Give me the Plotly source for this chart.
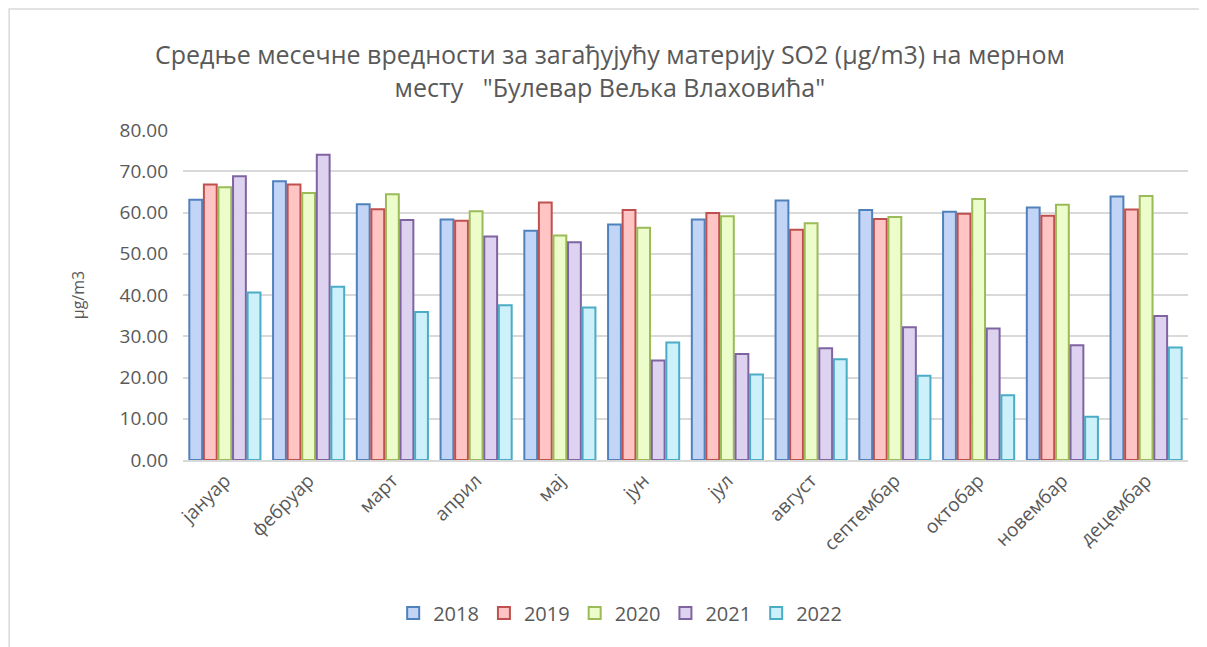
import plotly.graph_objects as go

months = ["јануар", "фебруар", "март", "април", "мај", "јун",
          "јул", "август", "септембар", "октобар", "новембар", "децембар"]

so2_2018 = [63.1, 67.6, 62.0, 58.3, 55.6, 57.1, 58.3, 62.9, 60.6, 60.2, 61.2, 63.9]
so2_2019 = [66.8, 66.8, 60.8, 58.0, 62.4, 60.6, 59.9, 55.8, 58.4, 59.7, 59.2, 60.7]
so2_2020 = [66.1, 64.7, 64.4, 60.3, 54.4, 56.3, 59.1, 57.4, 58.9, 63.3, 61.9, 64.0]
so2_2021 = [68.8, 74.0, 58.2, 54.2, 52.8, 24.1, 25.7, 27.1, 32.2, 31.9, 27.8, 34.9]
so2_2022 = [40.6, 42.0, 35.9, 37.5, 37.0, 28.5, 20.7, 24.4, 20.4, 15.7, 10.5, 27.3]

years = ["2018", "2019", "2020", "2021", "2022"]
series = [so2_2018, so2_2019, so2_2020, so2_2021, so2_2022]
fills = ["#c3d5f7", "#ffc4c4", "#ecfccb", "#ddd2ef", "#cdf1fb"]
edges = ["#4f81bd", "#c0504d", "#9bbb59", "#8064a2", "#4bacc6"]

fig = go.Figure()
for name, vals, fc, lc in zip(years, series, fills, edges):
    fig.add_trace(go.Bar(
        x=months, y=vals, name=name,
        marker=dict(color=fc, line=dict(color=lc, width=2)),
    ))

font_family = "Open Sans, Noto Sans, sans-serif"
grey = "#595959"

# the page body has an 8px margin, so the figure is a bit smaller than the window
fig.update_layout(
    width=1199, height=639,
    margin=dict(l=175, r=19, t=122, b=187),
    paper_bgcolor="white", plot_bgcolor="white",
    font=dict(family=font_family, color=grey, size=18),
    title=dict(
        text="Средње месечне вредности за загађујућу материју SO2 (µg/m3) на мерном<br>"
             "месту   \"Булевар Вељка Влаховића\"",
        x=0.502, xanchor="center", y=0.912, yanchor="middle",
        font=dict(size=25, color=grey, family=font_family),
    ),
    barmode="group", bargap=0.13, bargroupgap=0.12,
    legend=dict(orientation="h", x=0.435, xanchor="center", y=-0.464, yanchor="middle",
                font=dict(size=20, color=grey), itemwidth=30, traceorder="normal"),
    shapes=[dict(type="rect", xref="paper", yref="paper",
                 x0=-0.173, x1=1.2, y0=-1.2, y1=1.367,
                 line=dict(color="#d9d9d9", width=1.5), layer="below")],
)
fig.update_yaxes(
    range=[0, 80], dtick=10, tickformat=".2f",
    showgrid=True, gridcolor="#d9d9d9", gridwidth=1.5,
    zeroline=False, showline=False,
    tickfont=dict(size=19, color=grey), ticklabelstandoff=14,
    title=dict(text="µg/m3", font=dict(size=16, color=grey), standoff=30),
)
fig.update_xaxes(
    tickangle=-45, showline=True, linecolor="#d9d9d9", linewidth=2,
    tickfont=dict(size=19, color=grey), ticks="",
)

fig.write_html("out.html")
